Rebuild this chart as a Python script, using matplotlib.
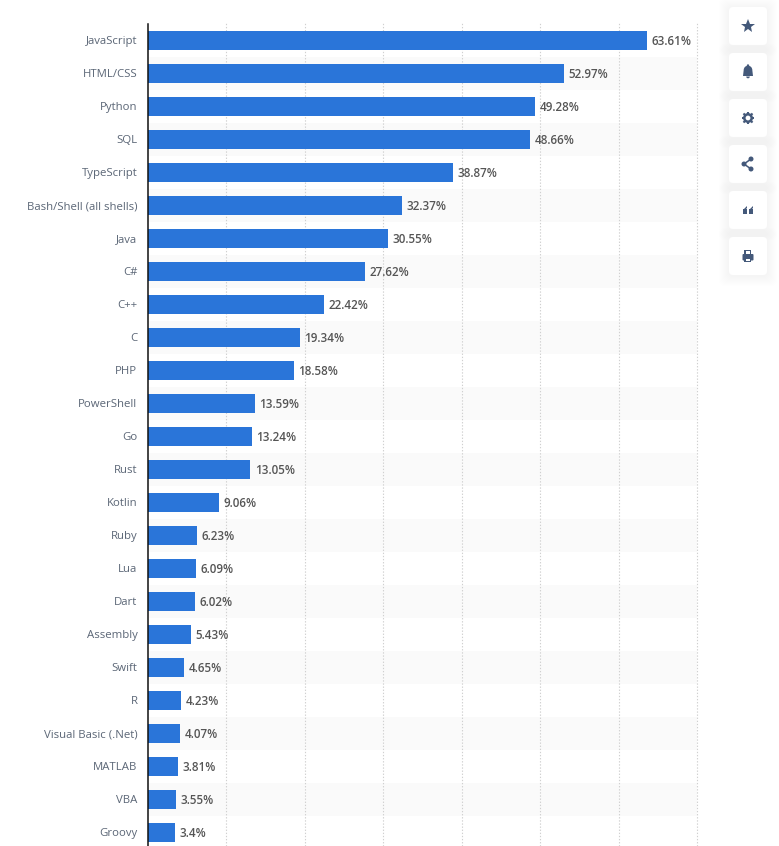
# Most used programming languages, horizontal bars with side buttons

import numpy
import matplotlib
matplotlib.use('Agg')
import matplotlib.pyplot
from matplotlib.patches import FancyBboxPatch, Circle, Rectangle, Polygon, Wedge

languages=['JavaScript','HTML/CSS','Python','SQL','TypeScript',
           'Bash/Shell (all shells)','Java','C#','C++','C','PHP',
           'PowerShell','Go','Rust','Kotlin','Ruby','Lua','Dart',
           'Assembly','Swift','R','Visual Basic (.Net)','MATLAB','VBA',
           'Groovy']
shares=[63.61,52.97,49.28,48.66,38.87,32.37,30.55,27.62,22.42,19.34,18.58,
        13.59,13.24,13.05,9.06,6.23,6.09,6.02,5.43,4.65,4.23,4.07,3.81,3.55,
        3.4]
share_labels=['63.61%','52.97%','49.28%','48.66%','38.87%','32.37%','30.55%',
              '27.62%','22.42%','19.34%','18.58%','13.59%','13.24%','13.05%',
              '9.06%','6.23%','6.09%','6.02%','5.43%','4.65%','4.23%','4.07%',
              '3.81%','3.55%','3.4%']
grid_values=[10,20,30,40,50,60,70]

W=779
H=846
blue='#2a75d9'
slate='#44597a'

matplotlib.pyplot.rcParams['font.family']=['Open Sans','DejaVu Sans']

fig=matplotlib.pyplot.figure(facecolor='white')
fig.set_size_inches(W/100,H/100)

# Main axes, placed by pixel
left,right,top,bottom=147.9,697.4,23.5,846.0
ax=fig.add_axes([left/W,1-bottom/H,(right-left)/W,(bottom-top)/H])
ax.set_xlim(0,70)
ax.set_ylim((bottom-40)/33.0,(top-40)/33.0)
ax.set_facecolor('white')

ypos=numpy.arange(len(languages))

# Alternate row bands
for i in ypos:
    if i%2==1:
        ax.axhspan(i-0.5,i+0.5,facecolor='#fafafa',edgecolor='none',zorder=0)

# Dotted grid
for g in grid_values:
    ax.axvline(g,color='#d0d0d0',linewidth=0.8,linestyle=(0,(1.2,1.6)),
               zorder=1,clip_on=False)

ax.barh(ypos,shares,height=19/33.0,color=blue,linewidth=0,zorder=2)

for i in ypos:
    ax.text(shares[i]+0.6,i+0.05,share_labels[i],ha='left',va='center',
            fontsize=8.4,fontweight='semibold',color='#555555',zorder=3)

ax.set_yticks(ypos)
ax.set_yticklabels(languages,fontsize=8.2,color='#5b6676')
ax.set_xticks([])
ax.tick_params(axis='y',length=0,pad=7.5)
for s in ['top','right','bottom']:
    ax.spines[s].set_visible(False)
ax.spines['left'].set_color('#111111')
ax.spines['left'].set_linewidth(1.1)

# Overlay for the side buttons, in pixel coordinates
ui=fig.add_axes([0,0,1,1],facecolor='none')
ui.set_xlim(0,W)
ui.set_ylim(H,0)
ui.axis('off')

for i in range(6):
    y0=7+46*i
    for k in range(10,0,-1):
        ui.add_patch(FancyBboxPatch((729-k,y0+1-k),38+k*2,38+k*2,
                                    boxstyle='round,pad=0,rounding_size=6',
                                    facecolor=(0.27,0.35,0.48,0.005),
                                    edgecolor='none'))
    ui.add_patch(FancyBboxPatch((729,y0),38,38,
                                boxstyle='round,pad=0,rounding_size=4',
                                facecolor='white',edgecolor='none'))

cx=748
# Star
ui.plot([cx],[26],marker='*',markersize=10,color=slate,markeredgewidth=0)
# Bell
ui.add_patch(Wedge((cx,70),4.3,180,360,facecolor=slate,edgecolor='none'))
ui.add_patch(Polygon([(cx-4.3,70),(cx+4.3,70),(cx+5,76),(cx-5,76)],
                     facecolor=slate,edgecolor='none'))
ui.add_patch(Circle((cx,65.5),1.2,facecolor=slate,edgecolor='none'))
ui.add_patch(Wedge((cx,76.5),1.8,0,180,facecolor=slate,edgecolor='none'))
# Gear
ui.add_patch(Circle((cx,118),5,facecolor=slate,edgecolor='none'))
for a in numpy.radians(numpy.arange(0,360,45)):
    ui.plot([cx+4*numpy.cos(a),cx+6.4*numpy.cos(a)],
            [118+4*numpy.sin(a),118+6.4*numpy.sin(a)],
            color=slate,linewidth=1.5,solid_capstyle='butt')
ui.add_patch(Circle((cx,118),2.4,facecolor='white',edgecolor='none'))
# Share
ui.plot([cx+3,cx-4,cx+3],[159,164,169],color=slate,linewidth=1.1)
for p in [(cx+3,159),(cx-4,164),(cx+3,169)]:
    ui.add_patch(Circle(p,2.5,facecolor=slate,edgecolor='none'))
# Quotes
for qx in [cx-5,cx+1]:
    ui.add_patch(Rectangle((qx,209.5),4,4.5,facecolor=slate,edgecolor='none'))
    ui.add_patch(Polygon([(qx,210),(qx+4,206),(qx+4,208),(qx+2,210)],
                         facecolor=slate,edgecolor='none'))
# Printer
ui.add_patch(Rectangle((cx-3.5,250),7,4,facecolor=slate,edgecolor='none'))
ui.add_patch(Rectangle((cx-2.4,251),4.8,3,facecolor='white',edgecolor='none'))
ui.add_patch(FancyBboxPatch((cx-5.5,254),11,6.5,
                            boxstyle='round,pad=0,rounding_size=1',
                            facecolor=slate,edgecolor='none'))
ui.add_patch(Rectangle((cx-3.5,258),7,4.5,facecolor=slate,edgecolor='none'))
ui.add_patch(Rectangle((cx-2.4,259),4.8,2.5,facecolor='white',edgecolor='none'))

matplotlib.pyplot.savefig('out.png',facecolor=fig.get_facecolor(),dpi=100)
